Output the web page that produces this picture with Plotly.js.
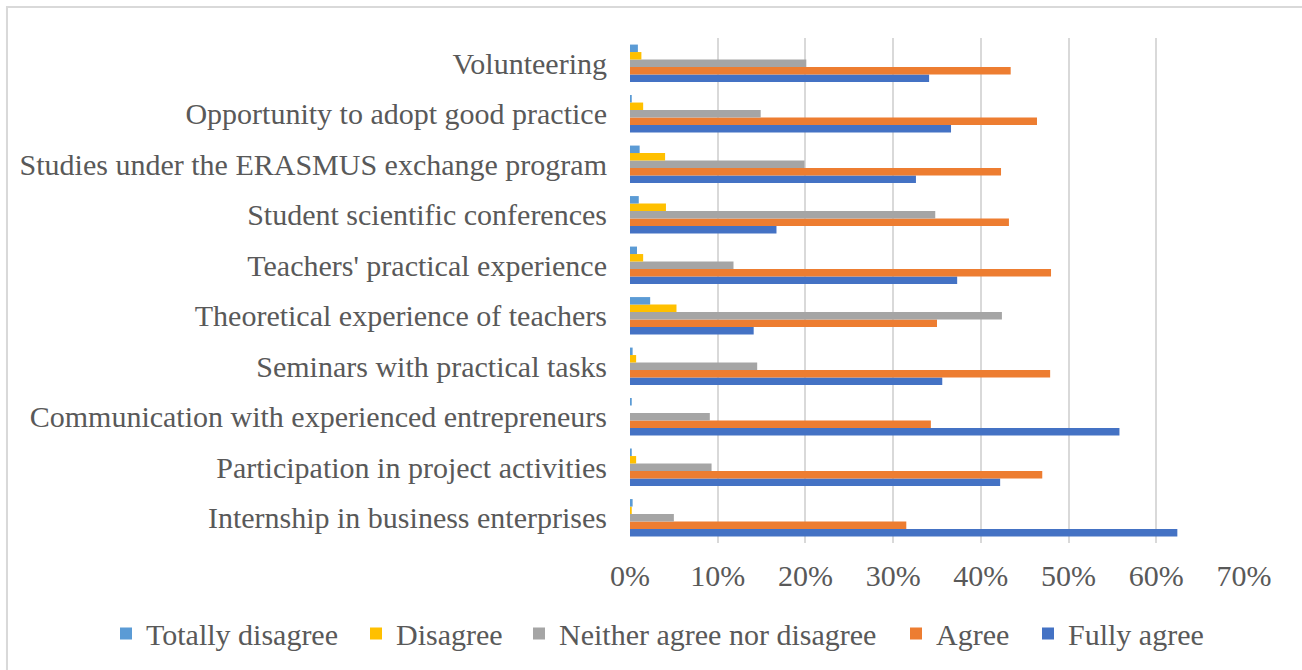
<!DOCTYPE html>
<html>
<head>
<meta charset="utf-8">
<script src="https://cdn.plot.ly/plotly-3.0.1.min.js"></script>
<style>html,body{margin:0;padding:0;background:#fff;}#chart{width:1302px;height:670px;}</style>
</head>
<body>
<div id="chart"></div>
<script>
// Categories, bottom to top
const categories = [
  "Internship in business enterprises",
  "Participation in project activities",
  "Communication with experienced entrepreneurs",
  "Seminars with practical tasks",
  "Theoretical experience of teachers",
  "Teachers' practical experience",
  "Student scientific conferences",
  "Studies under the ERASMUS exchange program",
  "Opportunity to adopt good practice",
  "Volunteering"
];
const totallyDisagree = [0.003, 0.002, 0.002, 0.003, 0.023, 0.008, 0.010, 0.011, 0.002, 0.009];
const disagree        = [0.002, 0.007, 0.000, 0.007, 0.053, 0.015, 0.041, 0.040, 0.015, 0.013];
const neither         = [0.050, 0.093, 0.091, 0.145, 0.424, 0.118, 0.348, 0.199, 0.149, 0.201];
const agree           = [0.315, 0.470, 0.343, 0.479, 0.350, 0.480, 0.432, 0.423, 0.464, 0.434];
const fullyAgree      = [0.624, 0.422, 0.558, 0.356, 0.141, 0.373, 0.167, 0.326, 0.366, 0.341];
const xTickVals = [0, 0.1, 0.2, 0.3, 0.4, 0.5, 0.6, 0.7];
const xTickText = ["0%", "10%", "20%", "30%", "40%", "50%", "60%", "70%"];

// Trace order: bottom bar of each group first
const seriesNames  = ["Fully agree", "Agree", "Neither agree nor disagree", "Disagree", "Totally disagree"];
const seriesValues = [fullyAgree, agree, neither, disagree, totallyDisagree];
const seriesColors = ["#4472C4", "#ED7D31", "#A5A5A5", "#FFC000", "#5B9BD5"];
const seriesLegend = ["legend5", "legend4", "legend3", "legend2", "legend"];

const traces = seriesNames.map((n, i) => ({
  type: "bar",
  orientation: "h",
  name: n,
  y: categories,
  x: seriesValues[i],
  legend: seriesLegend[i],
  marker: { color: seriesColors[i], line: { width: 0 } },
  hoverinfo: "name+x"
}));

const FAM = "Liberation Serif, Times New Roman, serif";
const TXT = "#595959";
const FS = 30;

function legendAt(px) {
  return {
    orientation: "h",
    xref: "container", yref: "container",
    x: px / 1302, y: 0.0545,
    xanchor: "left", yanchor: "middle",
    bgcolor: "rgba(0,0,0,0)",
    borderwidth: 0,
    font: { family: FAM, color: TXT, size: FS },
    itemwidth: 30
  };
}

const layout = {
  width: 1302,
  height: 670,
  margin: { l: 630, r: 58, t: 38, b: 127, autoexpand: false },
  paper_bgcolor: "#ffffff",
  plot_bgcolor: "#ffffff",
  barmode: "group",
  bargap: 0.26,
  bargroupgap: 0,
  font: { family: FAM, color: TXT, size: FS },
  showlegend: true,
  legend: legendAt(106),
  legend2: legendAt(356),
  legend3: legendAt(519),
  legend4: legendAt(896),
  legend5: legendAt(1028),
  xaxis: {
    range: [0, 0.7],
    tickvals: xTickVals,
    ticktext: xTickText,
    showgrid: true,
    gridcolor: "#d9d9d9",
    gridwidth: 2,
    zeroline: false,
    showline: false,
    ticks: "",
    ticklabelstandoff: 12,
    automargin: false,
    tickfont: { family: FAM, color: TXT, size: FS },
    fixedrange: true
  },
  yaxis: {
    type: "category",
    showgrid: false,
    zeroline: false,
    showline: false,
    ticks: "",
    ticklabelstandoff: 22,
    automargin: false,
    tickfont: { family: FAM, color: TXT, size: FS },
    fixedrange: true
  },
  shapes: [{
    type: "rect",
    xref: "paper", yref: "paper",
    x0: -1.0147, x1: 1.107, y0: -0.29, y1: 1.0614,
    line: { color: "#d9d9d9", width: 2 },
    fillcolor: "rgba(0,0,0,0)",
    layer: "below"
  }]
};

Plotly.newPlot("chart", traces, layout, { displayModeBar: false, staticPlot: true });
</script>
</body>
</html>
